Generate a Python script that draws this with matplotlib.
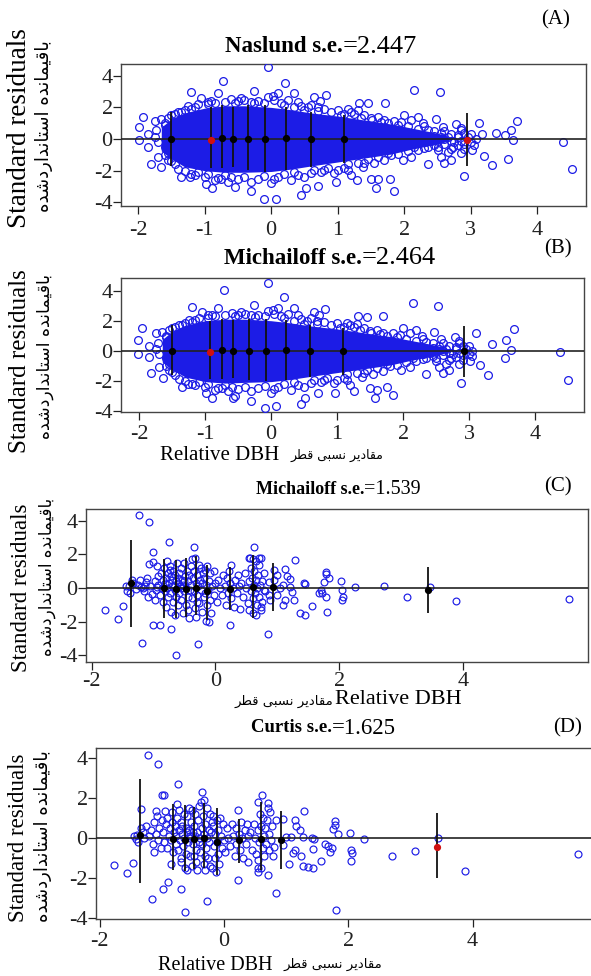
import matplotlib
matplotlib.use('Agg')
import matplotlib.pyplot as plt
import numpy as np

# ---------------- data ----------------
titles_bold = ["Naslund s.e.", "Michailoff s.e.", "Michailoff s.e.", "Curtis s.e."]
titles_val = ["=2.447", "=2.464", "=1.539", "=1.625"]
panel_tags = ["(A)", "(B)", "(C)", "(D)"]

xticks_ab = [-2, -1, 0, 1, 2, 3, 4]
xticks_cd = [-2, 0, 2, 4]
yticks = [-4, -2, 0, 2, 4]

# dense core envelope (panels A, B)
envA_x = [-1.65, -1.5, -1.3, -1.0, -0.7, -0.4, 0.0, 0.3, 0.6, 1.0, 1.4, 1.8, 2.1, 2.4, 2.6, 2.72]
envA_hi = [0.75, 1.25, 1.65, 1.95, 2.1, 2.1, 2.0, 1.85, 1.65, 1.45, 1.2, 0.95, 0.7, 0.45, 0.25, 0.0]
envA_lo = [-0.75, -1.25, -1.75, -2.0, -2.1, -2.1, -2.05, -1.9, -1.7, -1.45, -1.2, -0.95, -0.65, -0.4, -0.2, 0.0]
envB_x = [-1.65, -1.5, -1.3, -1.0, -0.7, -0.4, 0.0, 0.3, 0.6, 1.0, 1.4, 1.8, 2.1, 2.4, 2.6, 2.72]
envB_hi = [0.75, 1.3, 1.7, 2.0, 2.1, 2.1, 2.0, 1.85, 1.65, 1.45, 1.2, 0.95, 0.7, 0.45, 0.25, 0.0]
envB_lo = [-0.75, -1.25, -1.75, -2.05, -2.15, -2.1, -2.05, -1.9, -1.7, -1.45, -1.2, -0.95, -0.65, -0.4, -0.2, 0.0]

ptsA = [(-0.04,4.57),(-0.72,3.64),(0.21,3.52),(-1.2,2.97),(-0.26,3.05),(0.025,2.72),(0.1,2.88),(0.35,2.88),
        (0.65,2.63),(0.825,2.76),(0.735,2.42),(2.15,3.09),(2.53,2.97),(1.71,2.25),(1.45,2.25),(1.325,2.29),
        (-1.925,1.41),(-1.99,0.74),(-1.75,1.16),(-1.65,1.24),(-1.99,-0.06),(-1.85,-0.53),(-1.8,-1.58),
        (-1.65,-1.75),(-1.35,-2.42),(-1.225,-2.38),(-0.975,-2.84),(-0.89,-3.07),(-0.55,-3.01),(-0.3,-3.26),
        (-0.1,-3.81),(0.08,-3.81),(0.45,-3.54),(0.525,-3.07),(0.7,-2.97),(0.975,-2.69),(1.29,-2.59),
        (1.575,-3.12),(1.5,-2.55),(1.6,-2.55),(1.79,-2.55),(1.85,-3.28),(2.9,-2.32),(3.125,0.99),(3.175,0.32),
        (3.2,-1.07),(3.325,-1.64),(3.385,0.36),(3.51,0.25),(3.56,-1.28),(3.6,0.55),(3.64,-0.06),(3.7,1.14),
        (4.39,-0.19),(4.52,-1.87),(3.075,0.02),(3.0,-0.17),(3.025,-0.69),(2.775,0.95),(2.85,0.67),(2.575,0.78),
        (2.475,1.24),(2.2,1.41),(2.0,1.52),(2.275,1.03),(2.1,1.2),(2.35,-0.48),(2.55,-1.12),(2.6,-1.54),
        (2.7,-1.33),(2.5,-0.69),(2.725,-0.48),(2.35,-1.58),(2.1,-1.12),(1.975,-1.33),(1.3,1.83),(1.15,1.87),
        (1.05,1.52),(1.4,1.52),(1.51,1.2),(1.7,1.2),(1.9,0.88),(0.7,2.04),(0.5,1.83),(0.6,2.15),(0.4,2.36),
        (0.25,2.46),(-0.05,2.67),(-0.3,2.36),(-0.5,2.42),(-0.8,2.88),(-1.05,2.57),(-0.95,2.36),(-1.25,2.08),
        (-1.35,1.73),(0.8,-1.96),(0.95,-2.17),(1.15,-1.96),(1.375,-1.75),(1.55,-1.54),(1.7,-1.33),(1.2,-2.27),
        (0.6,-2.17),(0.3,-2.59),(0.0,-2.8),(-0.8,-2.48),(-0.65,-2.69),(-1.1,-2.06),(-1.7,-1.12),(-1.725,0.57),
        (-1.6,-0.48),(-1.5,1.5),(-1.4,1.7),(-1.2,1.9),(-1.1,2.2),(-0.9,2.4),(-0.6,2.5),(-0.4,2.45),(-0.2,2.4),
        (0.15,2.3),(0.45,2.1),(0.8,1.9),(1.2,1.7),(1.6,1.4),(1.85,1.15),(2.3,0.8),(2.6,0.5),(2.9,0.35),
        (-1.5,-1.4),(-1.4,-1.9),(-1.2,-2.2),(-1.0,-2.4),(-0.75,-2.5),(-0.5,-2.55),(-0.2,-2.5),(0.1,-2.4),
        (0.4,-2.3),(0.75,-2.1),(1.1,-1.8),(1.4,-1.5),(1.8,-1.0),(2.2,-0.7),(2.5,-0.5),(2.8,-0.4),
        (2.6,0.0),(2.8,0.1),(2.9,-0.3),(3.0,0.3),(2.75,-0.2),(2.45,0.2),(2.3,-0.2),(2.65,-0.85),(2.85,-0.9),
        (-1.85,0.3),(-1.7,-0.2),(-1.75,0.1),(-1.6,0.9),(-1.55,-0.9),
        (-1.6,1.0),(-1.55,1.35),(-1.45,1.55),(-1.3,1.85),(-1.15,2.05),(-0.95,2.2),(-0.85,2.3),(-0.7,2.35),
        (-0.55,2.3),(-0.45,2.6),(-0.25,2.25),(-0.1,2.3),(0.05,2.45),(0.2,2.15),(0.35,2.0),(0.55,2.0),(0.7,1.8),
        (0.9,1.7),(1.0,1.85),(1.1,1.6),(1.25,1.55),(1.35,1.35),(1.5,1.3),(1.65,1.1),(1.75,1.0),(1.95,1.05),
        (2.05,0.8),(2.2,0.65),(2.35,0.6),(2.45,0.5),(2.55,0.35),(2.7,0.3),(2.85,0.55),
        (-1.6,-1.0),(-1.55,-1.3),(-1.45,-1.6),(-1.3,-2.0),(-1.15,-2.3),(-0.95,-2.2),(-0.85,-2.6),(-0.7,-2.3),
        (-0.6,-2.4),(-0.4,-2.4),(-0.3,-2.7),(-0.1,-2.35),(0.05,-2.55),(0.2,-2.2),(0.35,-2.1),(0.5,-2.4),
        (0.65,-1.95),(0.85,-1.8),(1.0,-1.95),(1.15,-1.55),(1.3,-1.5),(1.45,-1.25),(1.6,-1.15),(1.75,-0.9),
        (1.9,-0.95),(2.05,-0.75),(2.15,-0.5),(2.3,-0.55),(2.45,-0.35),(2.6,-0.3),(2.7,-0.6),(2.9,-0.6),
        (2.05,0.3),(2.15,-0.2),(2.25,0.2),(2.35,0.1),(2.5,-0.1),(2.55,0.1),(2.65,0.15),(2.7,-0.15),(2.8,0.25),
        (2.85,-0.15),(2.95,0.15),(3.05,-0.35),(2.4,-0.15)]

ptsB = [(-0.05,4.51),(-0.72,4.04),(0.19,3.56),(-1.2,2.93),(-0.26,3.07),(2.15,3.18),(2.53,2.98),(1.7,2.33),
        (3.68,1.42),(3.1,1.16),(3.35,0.44),(3.56,0.71),(3.63,0.04),(3.54,-0.49),(3.16,-0.93),(3.29,-1.6),
        (2.88,-2.11),(4.37,-0.11),(4.5,-1.91),(-1.95,1.51),(-2.01,0.71),(-2.01,-0.22),(-1.85,-0.44),
        (-1.82,-1.51),(-1.64,-1.78),(-0.1,-3.82),(0.08,-3.67),(0.45,-3.56),(0.51,-3.11),(0.71,-2.78),
        (0.96,-2.78),(1.26,-2.67),(1.57,-3.11),(1.75,-2.44),(1.84,-2.93),(-0.58,-3.16),(-0.3,-3.33),
        (-0.89,-3.11),(-0.99,-2.78),(-1.26,-2.22),(0.03,2.7),(0.1,2.85),(0.35,2.85),(0.65,2.6),(0.82,2.75),
        (0.73,2.4),(1.45,2.25),(1.32,2.3),(-1.75,1.2),(-1.65,1.25),(-1.35,-2.4),(-0.55,-3.0),(1.5,-2.5),
        (1.6,-2.6),(3.05,0.0),(3.0,-0.2),(3.02,-0.7),(2.78,0.95),(2.85,0.65),(2.58,0.8),(2.47,1.25),(2.2,1.4),
        (2.0,1.5),(2.28,1.0),(2.1,1.2),(2.35,-0.5),(2.55,-1.1),(2.6,-1.5),(2.7,-1.3),(2.5,-0.7),(2.72,-0.5),
        (2.35,-1.55),(2.1,-1.1),(1.97,-1.3),(1.3,1.8),(1.15,1.85),(1.05,1.5),(1.4,1.5),(1.51,1.2),(1.7,1.2),
        (1.9,0.9),(0.7,2.0),(0.5,1.8),(0.6,2.15),(0.4,2.35),(0.25,2.45),(-0.05,2.65),(-0.3,2.35),(-0.5,2.4),
        (-0.8,2.85),(-1.05,2.55),(-0.95,2.35),(-1.25,2.05),(-1.35,1.7),(0.8,-1.95),(0.95,-2.15),(1.15,-1.95),
        (1.37,-1.75),(1.55,-1.55),(1.7,-1.35),(1.2,-2.25),(0.6,-2.15),(0.3,-2.6),(0.0,-2.8),(-0.8,-2.5),
        (-0.65,-2.7),(-1.1,-2.05),(-1.7,-1.1),(-1.72,0.55),(-1.6,-0.5),(-1.5,1.5),(-1.4,1.7),(-1.2,1.9),
        (-1.1,2.2),(-0.9,2.4),(-0.6,2.5),(-0.4,2.45),(-0.2,2.4),(0.15,2.3),(0.45,2.1),(0.8,1.9),(1.2,1.7),
        (1.6,1.4),(1.85,1.15),(2.3,0.8),(2.6,0.5),(2.9,0.35),(-1.5,-1.4),(-1.4,-1.9),(-1.2,-2.2),(-1.0,-2.4),
        (-0.75,-2.5),(-0.5,-2.55),(-0.2,-2.5),(0.1,-2.4),(0.4,-2.3),(0.75,-2.1),(1.1,-1.8),(1.4,-1.5),
        (1.8,-1.0),(2.2,-0.7),(2.5,-0.5),(2.8,-0.4),(2.6,0.0),(2.8,0.1),(2.9,-0.3),(3.0,0.3),(2.75,-0.2),
        (2.45,0.2),(2.3,-0.2),(2.65,-0.85),(2.85,-0.9),(-1.85,0.3),(-1.7,-0.2),(-1.75,0.1),(-1.6,0.9),(-1.55,-0.9),
        (-1.6,1.0),(-1.55,1.35),(-1.45,1.55),(-1.3,1.85),(-1.15,2.05),(-0.95,2.2),(-0.85,2.3),(-0.7,2.35),
        (-0.55,2.3),(-0.45,2.6),(-0.25,2.25),(-0.1,2.3),(0.05,2.45),(0.2,2.15),(0.35,2.0),(0.55,2.0),(0.7,1.8),
        (0.9,1.7),(1.0,1.85),(1.1,1.6),(1.25,1.55),(1.35,1.35),(1.5,1.3),(1.65,1.1),(1.75,1.0),(1.95,1.05),
        (2.05,0.8),(2.2,0.65),(2.35,0.6),(2.45,0.5),(2.55,0.35),(2.7,0.3),(2.85,0.55),
        (-1.6,-1.0),(-1.55,-1.3),(-1.45,-1.6),(-1.3,-2.0),(-1.15,-2.3),(-0.95,-2.2),(-0.85,-2.6),(-0.7,-2.3),
        (-0.6,-2.4),(-0.4,-2.4),(-0.3,-2.7),(-0.1,-2.35),(0.05,-2.55),(0.2,-2.2),(0.35,-2.1),(0.5,-2.4),
        (0.65,-1.95),(0.85,-1.8),(1.0,-1.95),(1.15,-1.55),(1.3,-1.5),(1.45,-1.25),(1.6,-1.15),(1.75,-0.9),
        (1.9,-0.95),(2.05,-0.75),(2.15,-0.5),(2.3,-0.55),(2.45,-0.35),(2.6,-0.3),(2.7,-0.6),(2.9,-0.6),
        (2.05,0.3),(2.15,-0.2),(2.25,0.2),(2.35,0.1),(2.5,-0.1),(2.55,0.1),(2.65,0.15),(2.7,-0.15),(2.8,0.25),
        (2.85,-0.15),(2.95,0.15),(3.05,-0.35),(2.4,-0.15)]

ptsC = [(-1.79,-1.31),(-1.57,-1.86),(-1.49,-1.07),(-1.45,0.12),(-1.40,0.1),(-1.38,-0.3),(-1.35,0.5),(-1.33,0.3),(-1.42,-0.15),
        (-1.24,4.37),(-1.07,3.93),(-1.18,-3.25),(-1.25,0.2),(-1.2,0.05),(-1.15,-0.2),(-1.12,0.35),(-1.1,0.6),(-1.05,0.1),
        (-1.02,-0.35),(-1.0,1.55),(-1.01,2.14),(-1.08,1.43),(-0.95,1.33),(-1.0,-2.18),(-1.28,-0.05),(-1.22,0.5),(-1.17,0.0),
        (-1.09,-0.55),(-1.13,0.15),(-0.98,0.4),(-0.96,-0.1),(-0.93,0.7),(-0.92,0.2),(-0.9,-0.4),(-0.89,-2.2),(-0.88,0.9),
        (-0.86,0.0),(-0.85,-0.8),(-0.84,0.5),(-0.83,1.2),(-0.82,-0.2),(-0.81,0.3),(-0.8,-1.1),(-0.97,-0.7),(-0.94,0.05),
        (-0.79,0.6),(-0.78,0.0),(-0.77,-0.5),(-0.76,0.9),(-0.75,2.72),(-0.75,0.3),(-0.74,-0.3),(-0.73,1.3),(-0.72,0.7),
        (-0.71,-2.42),(-0.71,-1.4),(-0.7,0.1),(-0.7,0.5),(-0.69,-0.8),(-0.68,1.0),(-0.67,0.2),(-0.66,-0.1),(-0.66,0.8),
        (-0.65,-1.6),(-0.64,0.4),(-0.63,-3.99),(-0.63,-0.5),(-0.62,1.5),(-0.62,0.0),(-0.61,0.6),(-0.6,-1.0),(-0.6,0.3),
        (-0.78,1.6),(-0.74,1.1),(-0.59,0.9),(-0.58,-0.3),(-0.57,0.1),(-0.56,1.2),(-0.55,-0.7),(-0.54,0.5),(-0.53,-1.5),
        (-0.52,0.2),(-0.51,1.5),(-0.5,-0.2),(-0.49,0.7),(-0.48,-1.0),(-0.47,0.0),(-0.46,1.0),(-0.45,-0.5),(-0.44,0.4),
        (-0.43,-1.8),(-0.42,0.8),(-0.41,-0.1),(-0.4,1.3),(-0.55,0.0),(-0.5,0.45),(-0.45,-1.3),(-0.39,0.2),(-0.38,-0.6),
        (-0.37,1.7),(-0.36,0.6),(-0.35,2.42),(-0.35,-0.2),(-0.34,1.0),(-0.33,-1.2),(-0.32,0.3),(-0.31,-1.7),(-0.3,0.8),
        (-0.29,-0.4),(-0.28,-3.31),(-0.28,0.1),(-0.27,1.4),(-0.26,-0.9),(-0.25,0.5),(-0.24,-0.1),(-0.23,1.2),(-0.22,-1.4),
        (-0.21,0.3),(-0.2,0.9),(-0.33,1.8),(-0.3,-0.8),(-0.19,-0.5),(-0.18,0.6),(-0.17,1.1),(-0.16,-0.3),(-0.15,-1.94),
        (-0.15,0.2),(-0.14,-1.0),(-0.13,1.3),(-0.12,-0.1),(-0.1,0.4),(-0.09,-0.7),(-0.08,0.9),(-0.07,-1.5),(-0.05,0.1),
        (-0.03,-0.4),(-0.02,1.0),(0.0,0.3),(-0.1,-2.0),(0.02,-0.8),(0.05,0.5),(0.07,0.0),(0.1,-0.4),(0.12,0.8),(0.15,0.1),
        (0.17,-1.0),(0.19,0.6),(0.2,-0.3),(0.22,1.0),(0.23,-2.22),(0.24,0.3),(0.25,-0.6),(0.26,1.4),(0.28,0.0),(0.3,-1.1),
        (0.32,0.5),(0.35,-0.3),(0.37,0.8),(0.39,-1.25),(0.38,0.1),(0.42,0.3),(0.45,-0.5),(0.48,0.9),(0.5,0.0),(0.52,-0.9),
        (0.54,-1.31),(0.54,0.4),(0.56,1.8),(0.57,-0.2),(0.58,1.2),(0.59,0.6),(0.6,-0.6),(0.61,-1.5),(0.62,2.42),(0.62,0.2),
        (0.63,1.0),(0.64,-0.3),(0.65,1.6),(0.66,0.5),(0.67,-1.0),(0.68,0.0),(0.69,0.8),(0.7,-0.5),(0.71,1.4),(0.72,0.2),
        (0.73,-1.3),(0.74,1.8),(0.75,0.4),(0.76,-0.8),(0.78,0.9),(0.8,-0.2),(0.6,1.7),(0.66,-1.6),(0.54,1.77),(0.71,1.81),
        (1.29,1.67),(0.94,1.07),(1.13,1.11),(1.16,0.71),(1.21,0.56),(1.43,0.28),(1.45,0.22),(1.79,0.97),(1.78,0.83),
        (1.75,0.38),(1.83,0.58),(2.03,0.43),(2.05,-0.12),(2.06,-0.52),(2.04,-0.71),(2.26,0.04),(2.72,0.12),(3.10,-0.52),
        (0.85,-2.7),(1.37,-1.45),(1.45,-1.57),(1.80,-1.43),(1.27,-0.71),(1.1,-1.01),(1.13,-0.71),(1.24,-0.22),(1.05,-0.02),
        (0.996,-0.42),(1.70,-0.12),(1.72,-0.32),(1.78,-0.52),(1.67,-0.32),(0.86,-0.42),(0.89,-0.71),(0.78,-0.12),
        (0.73,-1.11),(1.1,0.18),(1.21,0.08),(0.86,0.38),(0.94,0.48),(0.996,0.77),(1.56,-1.07),(3.47,0.08),(3.89,-0.77),
        (5.72,-0.64)]

ptsD = [(-1.777,-1.38),(-1.567,-1.75),(-1.47,-1.24),(-1.45,0.1),(-1.40,0.15),(-1.38,-0.2),(-1.336,1.46),(-1.33,0.5),
        (-1.30,0.3),(-1.42,-0.05),(-1.23,4.18),(-1.06,3.73),(-1.164,-3.07),(-1.09,1.36),(-1.0,2.17),(-0.97,2.17),(-0.95,1.36),
        (-1.25,0.6),(-1.2,0.1),(-1.17,0.4),(-1.15,-0.3),(-1.12,0.8),(-1.1,0.2),(-1.07,-0.1),(-1.05,0.5),(-1.02,-0.5),
        (-1.0,0.9),(-0.99,-2.57),(-1.28,0.0),(-1.13,-0.7),(-1.08,1.1),(-0.98,0.3),(-0.96,-0.2),(-0.94,0.7),(-0.92,1.0),
        (-0.91,-0.5),(-0.906,-2.2),(-0.89,0.1),(-0.87,0.5),(-0.86,-1.3),(-0.85,-0.1),(-0.84,0.8),(-0.83,1.3),(-0.82,-0.7),
        (-0.81,0.3),(-0.79,0.6),(-0.78,-0.3),(-0.77,0.1),(-0.76,1.0),(-0.745,2.7),(-0.74,-0.6),(-0.73,0.4),(-0.72,1.4),
        (-0.71,-0.1),(-0.7,0.8),(-0.69,-2.54),(-0.69,-1.0),(-0.68,0.2),(-0.67,0.6),(-0.66,-0.4),(-0.65,1.2),(-0.64,0.0),
        (-0.63,-1.5),(-0.626,-3.73),(-0.62,0.5),(-0.61,-0.8),(-0.6,0.3),(-0.6,-1.6),(-0.75,1.7),(-0.7,-1.2),(-0.59,1.1),
        (-0.58,-0.2),(-0.57,0.4),(-0.56,1.5),(-0.55,-0.9),(-0.54,0.1),(-0.53,0.8),(-0.52,-1.4),(-0.51,1.4),(-0.5,-0.3),
        (-0.49,0.6),(-0.48,-0.9),(-0.47,0.1),(-0.46,1.2),(-0.45,-0.6),(-0.44,0.3),(-0.43,-1.6),(-0.42,0.9),(-0.41,-0.2),
        (-0.4,1.6),(-0.55,0.0),(-0.5,0.3),(-0.45,-1.2),(-0.39,0.0),(-0.38,-0.7),(-0.37,1.8),(-0.36,0.5),(-0.35,2.33),
        (-0.35,-0.3),(-0.34,1.1),(-0.33,-1.3),(-0.32,0.2),(-0.31,-1.6),(-0.3,0.7),(-0.29,-0.5),(-0.28,1.5),(-0.27,-3.17),
        (-0.27,0.0),(-0.26,-1.0),(-0.25,0.4),(-0.24,-0.2),(-0.23,1.2),(-0.22,-1.4),(-0.21,0.3),(-0.2,0.8),(-0.33,1.9),
        (-0.3,-0.9),(-0.19,-1.53),(-0.18,0.6),(-0.17,1.1),(-0.16,-0.4),(-0.15,0.2),(-0.14,-1.0),(-0.13,-1.7),(-0.12,0.9),
        (-0.11,-0.2),(-0.1,0.4),(-0.09,-0.8),(-0.07,1.0),(-0.05,0.1),(-0.04,-0.5),(-0.02,0.7),(0.0,-0.1),(-0.08,-1.3),
        (0.02,-0.7),(0.05,0.5),(0.07,0.0),(0.1,-0.4),(0.12,0.7),(0.15,0.1),(0.17,-0.9),(0.19,0.5),(0.2,-0.3),(0.22,1.41),
        (0.22,-2.12),(0.24,0.2),(0.25,-0.6),(0.27,0.8),(0.29,0.0),(0.31,-1.0),(0.33,0.4),(0.35,-0.3),(0.37,0.7),(0.384,-1.19),
        (0.39,0.1),(0.42,0.3),(0.45,-0.6),(0.48,0.7),(0.5,0.0),(0.52,-0.8),(0.545,1.83),(0.545,-1.11),(0.545,-1.5),
        (0.545,-1.73),(0.55,0.4),(0.57,-0.2),(0.58,1.2),(0.6,-1.53),(0.6,0.6),(0.615,2.17),(0.62,-0.5),(0.63,1.0),(0.64,0.1),
        (0.65,-0.9),(0.66,0.5),(0.68,-0.3),(0.69,0.9),(0.707,1.75),(0.707,1.5),(0.707,-1.86),(0.72,0.2),(0.73,-0.6),(0.74,1.3),
        (0.75,-0.1),(0.77,0.6),(0.79,-0.9),(0.81,-0.47),(0.84,0.9),(0.84,-2.74),(0.95,0.94),(0.95,-0.35),(1.0,0.07),
        (1.05,-1.31),(1.08,0.07),(1.11,-0.77),(1.14,0.9),(1.14,-0.6),(1.16,0.6),(1.22,0.4),(1.24,-0.89),(1.27,-1.41),
        (1.27,0.03),(1.28,1.36),(1.35,-1.48),(1.41,0.02),(1.43,-1.53),(1.43,-0.55),(1.44,-0.05),(1.56,-1.14),(1.62,-0.3),
        (1.67,-0.4),(1.70,-0.69),(1.73,-0.52),(1.755,0.45),(1.78,0.86),(1.78,0.65),(1.80,-3.6),(1.835,0.2),(2.02,0.27),
        (2.04,-0.6),(2.06,-0.74),(2.04,-1.14),(2.255,-0.07),(2.71,-0.89),(3.08,-0.64),(3.45,0.02),(3.88,-1.65),(5.69,-0.81)]

# bin means with spread bars
barA_x = [-1.5, -0.91, -0.74, -0.57, -0.34, -0.085, 0.225, 0.6, 1.1, 2.94]
barA_lo = [-1.71, -1.85, -1.85, -1.79, -1.96, -2.06, -1.96, -1.75, -1.54, -1.71]
barA_hi = [1.68, 2.04, 2.15, 2.04, 2.15, 2.15, 2.04, 1.73, 1.52, 1.62]
barA_mean = [0.0, -0.05, 0.05, 0.0, 0.0, 0.0, 0.05, 0.0, 0.0, -0.05]
barA_red = [False, True, False, False, False, False, False, False, False, True]

barB_x = [-1.5, -0.92, -0.74, -0.58, -0.34, -0.08, 0.22, 0.59, 1.09, 2.92]
barB_lo = [-1.6, -1.85, -1.85, -1.8, -1.95, -2.0, -1.95, -1.75, -1.6, -1.75]
barB_hi = [1.7, 2.0, 2.1, 2.05, 2.1, 2.1, 2.05, 1.7, 1.5, 1.65]
barB_mean = [0.0, -0.05, 0.05, 0.0, 0.0, 0.0, 0.05, 0.0, 0.0, 0.0]
barB_red = [False, True, False, False, False, False, False, False, False, False]

barC_x = [-1.357, -0.83, -0.63, -0.47, -0.32, -0.13, 0.24, 0.605, 0.93, 3.44]
barC_lo = [-2.34, -1.75, -1.79, -1.71, -1.6, -1.9, -1.29, -1.75, -1.35, -1.45]
barC_hi = [2.86, 1.75, 1.67, 1.77, 1.9, 1.4, 1.27, 1.96, 1.47, 1.23]
barC_mean = [0.3, 0.0, -0.05, -0.05, 0.0, -0.15, -0.05, 0.05, 0.05, -0.1]
barC_red = [False] * 10

barD_x = [-1.352, -0.82, -0.626, -0.476, -0.325, -0.116, 0.239, 0.60, 0.92, 3.42]
barD_lo = [-2.25, -1.61, -1.65, -1.58, -1.53, -1.86, -1.28, -1.61, -1.56, -2.0]
barD_hi = [2.96, 1.71, 1.66, 1.58, 1.75, 1.49, 0.94, 1.83, 1.36, 1.24]
barD_mean = [0.15, -0.05, -0.1, -0.05, 0.0, -0.2, -0.1, -0.05, -0.1, -0.44]
barD_red = [False] * 9 + [True]

# Persian labels, pre-shaped (presentation forms), logical order
fa_ylabel = [0xFE91, 0xFE8E, 0xFED7, 0xFEF4, 0xFEE4, 0xFE8E, 0xFEE7, 0xFEAA, 0xFEE9, 0x20,
             0xFE8D, 0xFEB3, 0xFE98, 0xFE8E, 0xFEE7, 0xFEAA, 0xFE8D, 0xFEAD, 0xFEA9,
             0xFEB7, 0xFEAA, 0xFEE9]
fa_xlabel = [0xFEE3, 0xFED8, 0xFE8E, 0xFEA9, 0xFEF3, 0xFEAE, 0x20,
             0xFEE7, 0xFEB4, 0xFE92, 0xFEF0, 0x20,
             0xFED7, 0xFEC4, 0xFEAE]

# ---------------- drawing ----------------
W, H = 591, 976
fig = plt.figure(figsize=(W / 100, H / 100), dpi=100)
SERIF = 'Liberation Serif'
FA_FONT = 'DejaVu Sans'
BLUE = '#1c1ce6'

fa_y = ''.join(chr(c) for c in reversed(fa_ylabel))
fa_x = ''.join(chr(c) for c in reversed(fa_xlabel))


def fx(px):
    return px / W


def fy(py):
    return 1 - py / H


def make_axes(l, t, r, b, xlim, ylim, xticks, xpad):
    ax = fig.add_axes([l / W, 1 - b / H, (r - l) / W, (b - t) / H])
    ax.set_xlim(*xlim)
    ax.set_ylim(*ylim)
    ax.set_xticks(xticks)
    ax.set_yticks(yticks)
    ax.set_xticklabels([str(v) for v in xticks], fontfamily=SERIF)
    ax.set_yticklabels([str(v) for v in yticks], fontfamily=SERIF)
    ax.tick_params(direction='out', length=5.5, width=0.9, labelsize=16, colors='#222222')
    ax.tick_params(axis='y', pad=0.5)
    ax.tick_params(axis='x', pad=xpad)
    for s in ax.spines.values():
        s.set_color('#444444')
        s.set_linewidth(1.0)
    ax.axhline(0, color='#222222', lw=1.2, zorder=4)
    return ax


def draw_bars(ax, bx, lo, hi, mean, red):
    ax.vlines(bx, lo, hi, color='#111111', lw=1.3, zorder=5)
    for x, m, r in zip(bx, mean, red):
        ax.plot([x], [m], 'o', color='#d01010' if r else '#000000', ms=4.2, zorder=6)


def draw_points(ax, pts, ms, lw):
    xs = [p[0] for p in pts]
    ys = [p[1] for p in pts]
    ax.plot(xs, ys, 'o', mfc='none', mec=BLUE, ms=ms, mew=lw, ls='none', zorder=3)


# Panel A
axA = make_axes(121, 64, 586, 206, (-2.255, 4.73), (-4.23, 4.74), xticks_ab, 5)
axA.fill_between(envA_x, envA_lo, envA_hi, color=BLUE, lw=0, zorder=2)
draw_points(axA, ptsA, 5.6, 0.9)
draw_bars(axA, barA_x, barA_lo, barA_hi, barA_mean, barA_red)

# Panel B
axB = make_axes(121, 278, 584, 412, (-2.275, 4.74), (-4.07, 4.84), xticks_ab, 4)
axB.fill_between(envB_x, envB_lo, envB_hi, color=BLUE, lw=0, zorder=2)
draw_points(axB, ptsB, 5.6, 0.9)
draw_bars(axB, barB_x, barB_lo, barB_hi, barB_mean, barB_red)

# Panel C
axC = make_axes(86, 509, 588, 662, (-2.09, 6.02), (-4.39, 4.7), xticks_cd, 1.5)
draw_points(axC, ptsC, 4.9, 0.85)
draw_bars(axC, barC_x, barC_lo, barC_hi, barC_mean, barC_red)

# Panel D
axD = make_axes(96, 748, 597, 919, (-2.06, 6.0), (-4.07, 4.52), xticks_cd, 3.5)
draw_points(axD, ptsD, 5.0, 0.85)
draw_bars(axD, barD_x, barD_lo, barD_hi, barD_mean, barD_red)

# titles: bold name + regular value, joined at x
title_pos = [(343, 47, 16.5, 19), (362, 258, 16.5, 19), (364, 490, 13, 14.5), (332, 728, 13.5, 16.5)]
for (jx, jy, sb, sv), tb, tv in zip(title_pos, titles_bold, titles_val):
    fig.text(fx(jx), fy(jy), tb, ha='right', va='center', fontfamily=SERIF,
             fontweight='bold', fontsize=sb)
    fig.text(fx(jx), fy(jy), tv, ha='left', va='center', fontfamily=SERIF, fontsize=sv)

tag_pos = [(556, 20), (558, 249), (558, 487), (568, 728)]
for (tx, ty), tg in zip(tag_pos, panel_tags):
    fig.text(fx(tx), fy(ty), tg, ha='center', va='center', fontfamily=SERIF, fontsize=15)

# y labels
ylab_pos = [(20, 128, 19.5, 44, 126, 13), (20, 361, 18, 45, 356, 12.5),
            (22, 588, 16.5, 47, 577, 12), (19, 838, 16.5, 43, 836, 13)]
for (ex, ey, es, px_, py_, ps) in ylab_pos:
    fig.text(fx(ex), fy(ey), 'Standard residuals', rotation=90, ha='center', va='center',
             fontfamily=SERIF, fontsize=es)
    fig.text(fx(px_), fy(py_), fa_y, rotation=90, ha='center', va='center',
             fontfamily=FA_FONT, fontsize=ps)

# x labels (B, C, D)
xlab = [(220, 456, 15, 337, 455, 9), (398, 700, 16, 284, 701, 9.5), (215, 966, 14.5, 333, 964, 9.5)]
for (ex, ey, es, px_, py_, ps) in xlab:
    fig.text(fx(ex), fy(ey), 'Relative DBH', ha='center', va='center', fontfamily=SERIF, fontsize=es)
    fig.text(fx(px_), fy(py_), fa_x, ha='center', va='center', fontfamily=FA_FONT, fontsize=ps)

fig.savefig('out.png', dpi=100)
